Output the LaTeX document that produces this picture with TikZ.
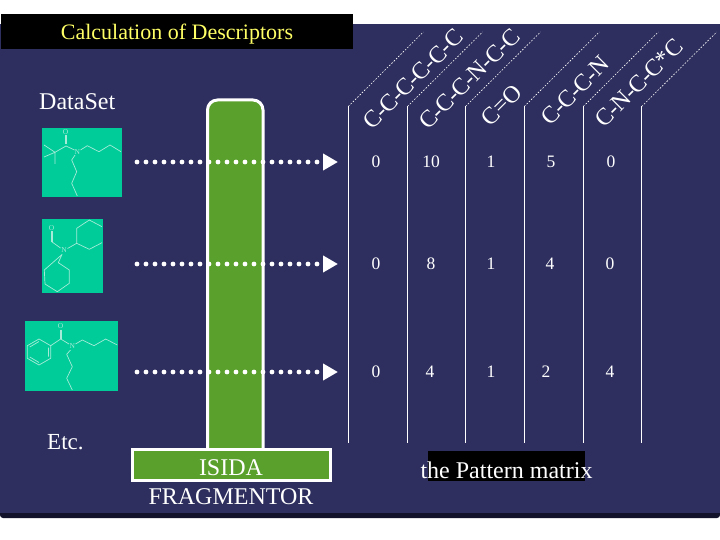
\documentclass[tikz,border=0pt]{standalone}
\usepackage{fontspec}
\setmainfont{Liberation Serif}
\usetikzlibrary{arrows.meta}
\definecolor{navy}{HTML}{2E2F5E}
\definecolor{navydark}{HTML}{12122A}
\definecolor{leaf}{HTML}{5AA02C}
\definecolor{mint}{HTML}{00CC99}
\definecolor{titley}{HTML}{FFFF66}
\definecolor{molline}{HTML}{A5EBD8}
\newcommand{\hyb}{\kern-0.6pt-\kern-0.6pt}
\tikzset{
  x=1pt,y=-1pt,
  label/.style={text=white,font=\fontsize{24}{28}\selectfont,inner sep=0pt},
  num/.style={text=white,font=\fontsize{17.5}{20}\selectfont,inner sep=0pt},
  hdr/.style={text=white,font=\fontsize{24}{28}\selectfont,inner sep=0pt,rotate=45},
  mol/.style={draw=molline,line width=0.7pt,line join=round},
  atom/.style={text=molline,font=\fontsize{7.5}{8}\selectfont,inner sep=0pt},
  vline/.style={draw=white,line width=0.9pt},
  dline/.style={draw=white,line width=0.6pt,dash pattern=on 1.6pt off 1.6pt},
  flow/.style={draw=white,line width=4.8pt,line cap=round,dash pattern=on 0pt off 9pt,
    -{Triangle[length=15pt,width=16pt,fill=white]}},
}
\begin{document}
\begin{tikzpicture}
\useasboundingbox (0,0) rectangle (720,540);
\fill[white] (0,0) rectangle (720,540);
\fill[navydark] (0,30) -- (720,30) -- (720,510) [rounded corners=3pt] -- (720,518) -- (0,518) [sharp corners] -- (0,30) -- cycle;
\fill[navy] (0,24) rectangle (720,512.5);

% title
\node[fill=black,minimum width=352pt,minimum height=35pt,inner sep=0pt,anchor=north west] (title) at (1,14) {};
\node[text=titley,font=\fontsize{22}{26}\selectfont,inner sep=0pt] (titlet) at (177,34) {Calculation of Descriptors};
\node[label,anchor=west] (dataset) at (39,101.5) {DataSet};
\node[label,anchor=west,font=\fontsize{23}{26}\selectfont] (etc) at (47,442) {Etc.};

% fragmentor
\draw[fill=leaf,draw=white,line width=3pt,rounded corners=10pt] (207.5,452) -- (207.5,100) -- (263,100) -- (263,452);
\node[fill=leaf,draw=white,line width=3pt,outer sep=0pt,minimum width=198pt,minimum height=30.4pt,inner sep=0pt,anchor=north west] (isida) at (132.5,449.8) {};
\node[label] (isidat) at (231,468) {ISIDA};
\node[label] (fragt) at (231,497) {FRAGMENTOR};

% molecule boxes
\node[fill=mint,inner sep=0pt,minimum width=80pt,minimum height=69pt,anchor=north west] (m1) at (42,128) {};
\node[fill=mint,inner sep=0pt,minimum width=61pt,minimum height=74pt,anchor=north west] (m2) at (42,219) {};
\node[fill=mint,inner sep=0pt,minimum width=93pt,minimum height=70pt,anchor=north west] (m3) at (25,321) {};

% molecule 1
\draw[mol] (65.2,135) -- (65.2,144.5) (66.8,135) -- (66.8,144.5);
\draw[mol] (44,145) -- (55,152.3) -- (44,157) (55,152.3) -- (55,164) (55,152.3) -- (66,146) -- (74.5,150);
\draw[mol] (80.5,150) -- (87.3,145.7) -- (99,151.7) -- (110,145) -- (121,151.7);
\draw[mol] (75,155) -- (71.7,160) -- (76.7,171.7) -- (71.7,183.3) -- (77.3,196);
\node[atom] (m1o) at (65.7,132) {O};
\node[atom] (m1n) at (77.3,151.7) {N};

% molecule 2
\draw[mol] (51,231.5) -- (51,241.5) (52.6,231.5) -- (52.6,241.5);
\draw[mol] (51.7,241.7) -- (60.5,248);
\draw[mol] (67.5,248.5) -- (76.7,243.3) -- (76.7,228.3) -- (89.3,220) -- (102,226.7) (102,242.7) -- (89.3,249.3) -- (76.7,243.3);
\draw[mol] (62,254.5) -- (58.3,262.7) -- (69.3,270) -- (69.3,283.3) -- (57.3,291.7) -- (45,284) -- (44.3,270) -- cycle;
\node[atom] (m2o) at (51.7,227.7) {O};
\node[atom] (m2n) at (64,250.5) {N};

% molecule 3
\draw[mol] (60,329.5) -- (60,338.5) (61.6,329.5) -- (61.6,338.5);
\draw[mol] (50.7,345.7) -- (60.7,339) -- (69,344);
\draw[mol] (75.5,344) -- (82.3,340) -- (94,345.7) -- (105.7,339) -- (117.3,345);
\draw[mol] (70.5,350) -- (66.7,354.3) -- (72.3,366.7) -- (66.7,378.3) -- (72.3,390);
\draw[mol] (50.7,345.7) -- (50.7,358.3) -- (39,365) -- (27.3,358.3) -- (27.3,345.7) -- (39,339) -- cycle;
\draw[mol] (48.5,347.5) -- (48.5,356.5) (39,362.5) -- (29.8,357) (29.8,347) -- (39,341.5);
\node[atom] (m3o) at (60.7,325.7) {O};
\node[atom] (m3n) at (72.3,345.7) {N};

% flows
\coordinate (s1) at (137,162); \coordinate (e1) at (338,162);
\coordinate (s2) at (137,264); \coordinate (e2) at (338,264);
\coordinate (s3) at (137,372); \coordinate (e3) at (338,372);
\draw[flow] (s1) -- (e1);
\draw[flow] (s2) -- (e2);
\draw[flow] (s3) -- (e3);

% column rules
\foreach \n/\x in {a/348.3,b/407.5,c/465.5,d/524.3,e/583.3,f/641.7}{
  \coordinate (\n t) at (\x,106.5);
  \coordinate (\n b) at (\x,443);
  \coordinate (\n d) at (\x+75,32);
  \draw[vline] (\n t) -- (\n b);
  \draw[dline] (\n t) -- (\n d);
}

% headers
\node[hdr] (h1) at (413,79) {C\hyb C\hyb C\hyb C\hyb C\hyb C};
\node[hdr] (h2) at (469.5,79) {C\hyb C\hyb C\hyb N\hyb C\hyb C};
\node[hdr] (h3) at (501.5,105) {C=O};
\node[hdr] (h4) at (575,90.5) {C\hyb C\hyb C\hyb N};
\node[hdr] (h5) at (639,83) {C\hyb N\hyb C\hyb C*C};

% numbers
\foreach \x/\y/\t in {376/162/0,431/162/10,491/162/1,551/162/5,611/162/0,
  376/264/0,431/264/8,491/264/1,550/264/4,610/264/0,
  376/372/0,430/372/4,491/372/1,546/372/2,610/372/4}{
  \node[num] at (\x,\y) {\t};
}

% caption
\node[fill=black,minimum width=157pt,minimum height=29.7pt,inner sep=0pt,anchor=north west] (capbox) at (428,451) {};
\node[label] (cap) at (506.5,470) {the Pattern matrix};
\end{tikzpicture}
\end{document}
